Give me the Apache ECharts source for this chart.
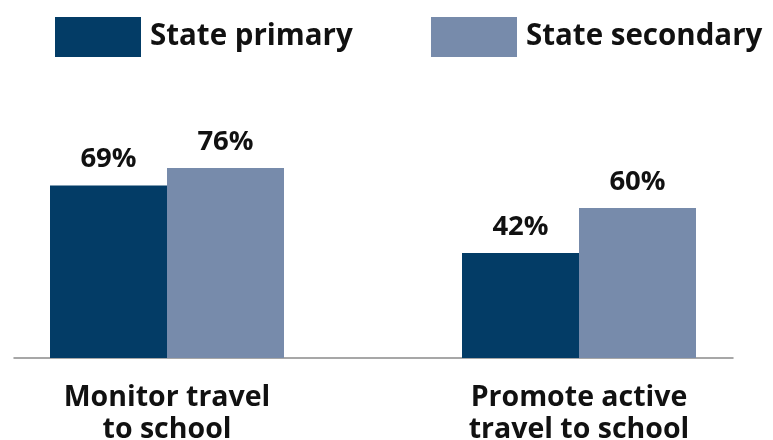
<!DOCTYPE html>
<html><head><meta charset="utf-8">
<script src="https://cdn.jsdelivr.net/npm/echarts@6/dist/echarts.min.js"></script>
<style>html,body{margin:0;padding:0;background:#fff}#c{width:773px;height:440px}</style>
</head><body><div id="c"></div>
<script>
const categories = ['Monitor travel\nto school', 'Promote active\ntravel to school'];
const seriesNames = ['State primary', 'State secondary'];
const primaryValues = [69, 42];
const secondaryValues = [76, 60];

const FONT = 'Open Sans';
const chart = echarts.init(document.getElementById('c'), null, {renderer: 'canvas'});
const labelStyle = {show: true, position: 'top', distance: 12, formatter: '{c}%',
  fontFamily: FONT, fontWeight: 'bold', fontSize: 27.5, color: '#111'};
const legendText = {fontFamily: FONT, fontWeight: 'bold', fontSize: 29.5, color: '#111', padding: [0,0,4,4]};
chart.setOption({
  animation: false,
  legend: [
    {data: [seriesNames[0]], left: 50, top: 12, itemWidth: 86, itemHeight: 40, icon: 'rect', textStyle: legendText, selectedMode: false},
    {data: [seriesNames[1]], left: 426, top: 12, itemWidth: 86, itemHeight: 40, icon: 'rect', textStyle: legendText, selectedMode: false}
  ],
  grid: [
    {left: -39, right: -12, top: 108, bottom: 82, outerBoundsMode: 'none', containLabel: false},
    {left: 14, right: 40, top: 108, bottom: 82, outerBoundsMode: 'none', containLabel: false}
  ],
  xAxis: [
    {type: 'category', gridIndex: 0, data: categories, axisLine: {show: false}, axisTick: {show: false},
     axisLabel: {fontFamily: FONT, fontWeight: 'bold', fontSize: 28.5, color: '#111', lineHeight: 32, margin: 24, interval: 0}},
    {type: 'category', gridIndex: 1, data: categories, axisLine: {show: true, lineStyle: {color: '#8a8a8a', width: 1.5}},
     axisTick: {show: false}, axisLabel: {show: false}}
  ],
  yAxis: [
    {type: 'value', gridIndex: 0, min: 0, max: 100, show: false, splitLine: {show: false}},
    {type: 'value', gridIndex: 1, min: 0, max: 100, show: false, splitLine: {show: false}}
  ],
  series: [
    {name: seriesNames[0], type: 'bar', data: primaryValues, barWidth: 117, barGap: '0%',
     itemStyle: {color: '#033C66'}, label: labelStyle},
    {name: seriesNames[1], type: 'bar', data: secondaryValues, barWidth: 117, barGap: '0%',
     itemStyle: {color: '#778BAB'}, label: labelStyle}
  ]
});
</script></body></html>
